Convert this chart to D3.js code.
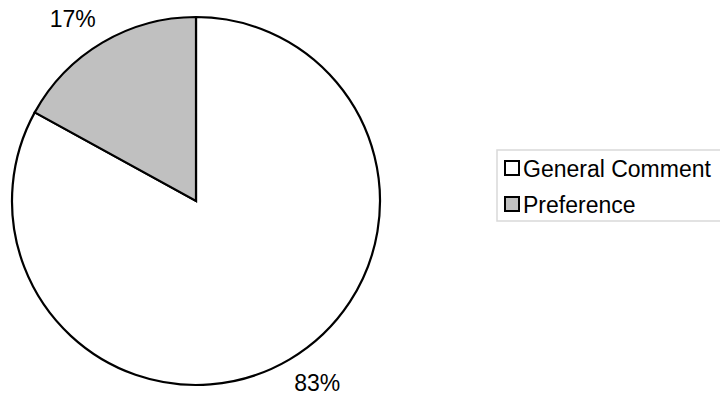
<!DOCTYPE html>
<html>
<head>
<meta charset="utf-8">
<script src="https://cdn.jsdelivr.net/npm/d3@7"></script>
<style>
  html, body { margin: 0; padding: 0; background: #fff; }
  svg { display: block; }
  text { font-family: "Liberation Sans", Arial, sans-serif; fill: #000; }
</style>
</head>
<body>
<svg id="chart" width="720" height="401"></svg>
<script>
// Comment categories and their share of responses (percent)
const categories = ["General Comment", "Preference"];
const shares = [83, 17];
const fills = ["#ffffff", "#c0c0c0"];

const svg = d3.select("#chart");
const cx = 196, cy = 201, radius = 184;

const pie = d3.pie().sort(null).value(d => d.value);
const arcs = pie(categories.map((c, i) => ({ name: c, value: shares[i], fill: fills[i] })));

const arc = d3.arc().innerRadius(0).outerRadius(radius);
const labelArc = d3.arc().innerRadius(radius + 13).outerRadius(radius + 13);

const g = svg.append("g").attr("transform", `translate(${cx},${cy})`);

g.selectAll("path.slice")
  .data(arcs)
  .join("path")
  .attr("class", "slice")
  .attr("d", arc)
  .attr("fill", d => d.data.fill)
  .attr("stroke", "#000")
  .attr("stroke-width", 2.2)
  .attr("stroke-linejoin", "miter");

// Percentage labels placed just outside each slice
g.selectAll("text.pct")
  .data(arcs)
  .join("text")
  .attr("class", "pct")
  .each(function (d) {
    const [x, y] = labelArc.centroid(d);
    const mid = (d.startAngle + d.endAngle) / 2;
    const right = Math.sin(mid) >= 0;
    const top = Math.cos(mid) > 0;
    d3.select(this)
      .attr("x", right ? x - 2 : x)
      .attr("y", top ? y - 4.5 : y + 20.5)
      .attr("text-anchor", right ? "start" : "end");
  })
  .style("font-size", "23px")
  .text(d => d.data.value + "%");

// Legend
const legend = svg.append("g").attr("transform", "translate(497,150)");
legend.append("rect")
  .attr("x", 0).attr("y", 0)
  .attr("width", 240).attr("height", 71)
  .attr("fill", "#fff")
  .attr("stroke", "#d9d9d9")
  .attr("stroke-width", 1.5);

const items = legend.selectAll("g.item")
  .data(categories)
  .join("g")
  .attr("class", "item")
  .attr("transform", (d, i) => `translate(8,${11 + i * 36})`);

items.append("rect")
  .attr("x", 0).attr("y", 0)
  .attr("width", 14).attr("height", 14)
  .attr("fill", (d, i) => fills[i])
  .attr("stroke", "#000")
  .attr("stroke-width", 2);

items.append("text")
  .attr("x", 18).attr("y", 15.5)
  .style("font-size", "23px")
  .text(d => d);
</script>
</body>
</html>
